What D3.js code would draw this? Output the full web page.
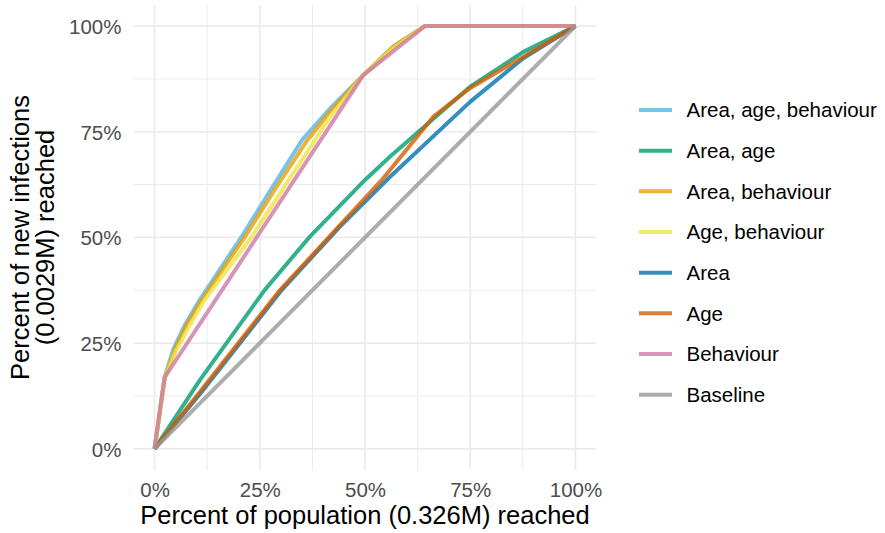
<!DOCTYPE html>
<html>
<head>
<meta charset="utf-8">
<script src="https://cdn.jsdelivr.net/npm/d3@7"></script>
<style>
  html, body { margin: 0; padding: 0; background: #ffffff; }
  svg { display: block; font-family: "Liberation Sans", Arial, Helvetica, sans-serif; }
</style>
</head>
<body>
<svg id="chart" width="885" height="533"></svg>
<script>
// ---- data (fractions) ----
const seriesNames = ["Area, age, behaviour", "Area, age", "Area, behaviour", "Age, behaviour", "Area", "Age", "Behaviour", "Baseline"];
const seriesColors = ["#56B4E9", "#009E73", "#E69F00", "#F0E442", "#0072B2", "#D55E00", "#CC79A7", "#999999"];

const xAreaAgeBehaviour = [0, 0.024, 0.044, 0.072, 0.107, 0.207, 0.282, 0.35, 0.417, 0.496, 0.567, 0.6425, 1];
const yAreaAgeBehaviour = [0, 0.169, 0.234, 0.293, 0.352, 0.502, 0.622, 0.73, 0.805, 0.884, 0.951, 1, 1];

const xAreaAge = [0, 0.108, 0.262, 0.369, 0.5, 0.559, 0.749, 0.876, 1];
const yAreaAge = [0, 0.163, 0.376, 0.502, 0.636, 0.691, 0.856, 0.939, 1];

const xAreaBehaviour = [0, 0.024, 0.048, 0.076, 0.112, 0.215, 0.29, 0.363, 0.417, 0.496, 0.567, 0.6425, 1];
const yAreaBehaviour = [0, 0.167, 0.234, 0.293, 0.352, 0.502, 0.62, 0.73, 0.797, 0.884, 0.951, 1, 1];

const xAgeBehaviour = [0, 0.024, 0.05, 0.084, 0.119, 0.231, 0.305, 0.381, 0.417, 0.496, 0.567, 0.6425, 1];
const yAgeBehaviour = [0, 0.167, 0.23, 0.293, 0.352, 0.502, 0.615, 0.73, 0.785, 0.884, 0.948, 1, 1];

const xArea = [0, 0.108, 0.302, 0.44, 0.559, 0.749, 0.876, 1];
const yArea = [0, 0.13, 0.3756, 0.525, 0.643, 0.82, 0.924, 1];

const xAge = [0, 0.108, 0.298, 0.54, 0.662, 0.749, 0.876, 1];
const yAge = [0, 0.135, 0.3756, 0.636, 0.785, 0.853, 0.927, 1];

const xBehaviour = [0, 0.024, 0.496, 0.6425, 1];
const yBehaviour = [0, 0.169, 0.884, 1, 1];

const xBaseline = [0, 1];
const yBaseline = [0, 1];

const tickValues = [0, 0.25, 0.5, 0.75, 1];
const tickLabels = ["0%", "25%", "50%", "75%", "100%"];
const xTitle = "Percent of population (0.326M) reached";
const yTitleLines = ["Percent of new infections", "(0.0029M) reached"];

// ---- build series ----
const xsAll = [xAreaAgeBehaviour, xAreaAge, xAreaBehaviour, xAgeBehaviour, xArea, xAge, xBehaviour, xBaseline];
const ysAll = [yAreaAgeBehaviour, yAreaAge, yAreaBehaviour, yAgeBehaviour, yArea, yAge, yBehaviour, yBaseline];
const series = seriesNames.map((name, i) => ({
  name, color: seriesColors[i],
  values: xsAll[i].map((xv, j) => ({ x: xv, y: ysAll[i][j] }))
}));

// ---- layout ----
const svg = d3.select("#chart");
const panel = { left: 133.5, right: 596.5, top: 4.9, bottom: 470 };

const x = d3.scaleLinear().domain([-0.05, 1.05]).range([panel.left, panel.right]);
const y = d3.scaleLinear().domain([-0.05, 1.05]).range([panel.bottom, panel.top]);

const grid = svg.append("g");
const minorVals = [0.125, 0.375, 0.625, 0.875];
// minor grid
grid.selectAll("line.vmin").data(minorVals).join("line")
  .attr("x1", d => x(d)).attr("x2", d => x(d))
  .attr("y1", panel.top).attr("y2", panel.bottom)
  .attr("stroke", "#EBEBEB").attr("stroke-width", 1);
grid.selectAll("line.hmin").data(minorVals).join("line")
  .attr("y1", d => y(d)).attr("y2", d => y(d))
  .attr("x1", panel.left).attr("x2", panel.right)
  .attr("stroke", "#EBEBEB").attr("stroke-width", 1);
// major grid
grid.selectAll("line.vmaj").data(tickValues).join("line")
  .attr("x1", d => x(d)).attr("x2", d => x(d))
  .attr("y1", panel.top).attr("y2", panel.bottom)
  .attr("stroke", "#EBEBEB").attr("stroke-width", 1.7);
grid.selectAll("line.hmaj").data(tickValues).join("line")
  .attr("y1", d => y(d)).attr("y2", d => y(d))
  .attr("x1", panel.left).attr("x2", panel.right)
  .attr("stroke", "#EBEBEB").attr("stroke-width", 1.7);

// ---- axes (labels only) ----
const fmt = d => tickLabels[tickValues.indexOf(d)];
const xAxis = svg.append("g")
  .attr("transform", `translate(0,${panel.bottom})`)
  .call(d3.axisBottom(x).tickValues(tickValues).tickFormat(fmt).tickSize(0).tickPadding(12));
const yAxis = svg.append("g")
  .attr("transform", `translate(${panel.left},0)`)
  .call(d3.axisLeft(y).tickValues(tickValues).tickFormat(fmt).tickSize(0).tickPadding(12));
[xAxis, yAxis].forEach(a => {
  a.select(".domain").remove();
  a.selectAll("text")
    .attr("fill", "#4D4D4D")
    .style("font-size", "20.5px")
    .style("font-family", "\"Liberation Sans\", Arial, sans-serif");
});
xAxis.selectAll("text").attr("dy", "0.71em");
yAxis.selectAll("text").attr("dy", "0.36em");

// ---- lines ----
const line = d3.line().x(d => x(d.x)).y(d => y(d.y)).curve(d3.curveLinear);
svg.append("g").selectAll("path").data(series).join("path")
  .attr("d", d => line(d.values))
  .attr("fill", "none")
  .attr("stroke", d => d.color)
  .attr("stroke-opacity", 0.8)
  .attr("stroke-width", 4)
  .attr("stroke-linejoin", "round")
  .attr("stroke-linecap", "butt");

// ---- axis titles ----
svg.append("text")
  .attr("x", (panel.left + panel.right) / 2)
  .attr("y", 524)
  .attr("text-anchor", "middle")
  .attr("fill", "#000")
  .style("font-size", "25.5px")
  .text(xTitle);

const yt = svg.append("text")
  .attr("transform", `translate(0,${(panel.top + panel.bottom) / 2}) rotate(-90)`)
  .attr("text-anchor", "middle")
  .attr("fill", "#000")
  .style("font-size", "25.5px");
yt.selectAll("tspan").data(yTitleLines).join("tspan")
  .attr("x", 0)
  .attr("y", (d, i) => i === 0 ? 29 : 54)
  .text(d => d);

// ---- legend ----
const legend = svg.append("g");
const rowY = d3.scalePoint().domain(seriesNames).range([110, 394.7]);
const items = legend.selectAll("g").data(series).join("g")
  .attr("transform", d => `translate(0,${rowY(d.name)})`);
items.append("line")
  .attr("x1", 639).attr("x2", 672).attr("y1", 0).attr("y2", 0)
  .attr("stroke", d => d.color).attr("stroke-opacity", 0.8).attr("stroke-width", 4);
items.append("text")
  .attr("x", 686.5).attr("y", 0).attr("dy", "0.36em")
  .attr("fill", "#000")
  .style("font-size", "20.5px")
  .text(d => d.name);
</script>
</body>
</html>
